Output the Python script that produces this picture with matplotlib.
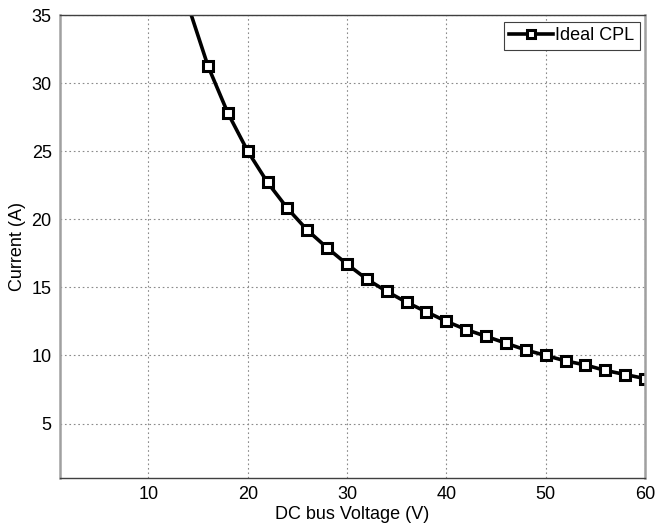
import matplotlib
matplotlib.use("Agg")
import matplotlib.pyplot as plt

plt.rcParams['font.family'] = ['Liberation Sans', 'DejaVu Sans']

# DC bus voltage (V) and the current drawn by an ideal constant power load (A)
voltage = [14, 16, 18, 20, 22, 24, 26, 28, 30, 32, 34, 36, 38, 40, 42, 44,
           46, 48, 50, 52, 54, 56, 58, 60]
current = [35.7, 31.25, 27.8, 25.0, 22.7, 20.8, 19.2, 17.9, 16.7, 15.6, 14.7,
           13.9, 13.2, 12.5, 11.9, 11.4, 10.9, 10.4, 10.0, 9.6, 9.3, 8.9, 8.6, 8.3]

x_ticks = [10, 20, 30, 40, 50, 60]
y_ticks = [5, 10, 15, 20, 25, 30, 35]

fig = plt.figure(figsize=(6.55, 5.27), dpi=100)
ax = fig.add_axes([60/655, 49/527, 585/655, 463/527])

ax.plot(voltage, current, color='black', lw=2.6, marker='s', ms=7.5,
        mfc='white', mec='black', mew=2.2, label='Ideal CPL')

ax.set_xlim(1.1, 60)
ax.set_ylim(1, 35)
ax.set_xticks(x_ticks)
ax.set_yticks(y_ticks)
ax.tick_params(labelsize=13, length=0, pad=6)

ax.grid(True, color='#8a8a8a', linestyle=(0, (1.5, 2.5)), linewidth=0.8)
for side in ('left', 'right'):
    ax.spines[side].set_color('#a0a0a0')
    ax.spines[side].set_linewidth(1.8)
for side in ('top', 'bottom'):
    ax.spines[side].set_color('#404040')
    ax.spines[side].set_linewidth(1.0)

ax.set_xlabel('DC bus Voltage (V)', fontsize=13, labelpad=2)
ax.set_ylabel('Current (A)', fontsize=13, labelpad=4)

leg = ax.legend(loc='upper right', fontsize=13, fancybox=False, framealpha=1,
                edgecolor='#404040', handlelength=2.4, handletextpad=0.15,
                borderpad=0.3, borderaxespad=0, markerscale=0.8,
                bbox_to_anchor=(0.9915, 0.985))
leg.get_frame().set_linewidth(0.8)

fig.savefig('out.png', dpi=100)
